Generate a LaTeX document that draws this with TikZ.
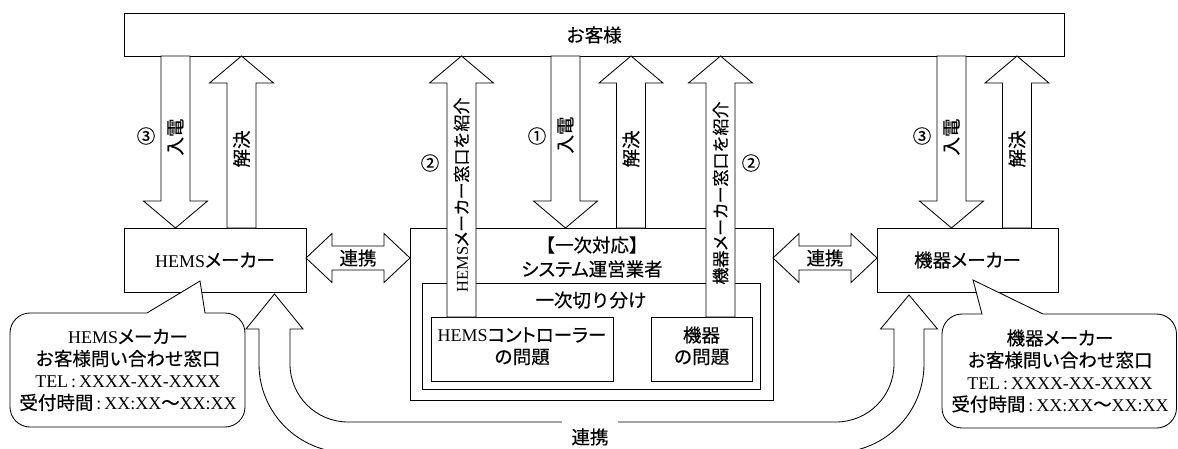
\documentclass[tikz,border=0pt]{standalone}
\usepackage{fontspec}
\setmainfont{Noto Sans CJK JP}[FakeBold=0.4]
\newfontfamily\latfont[Scale=0.97]{Liberation Serif}
\newfontfamily\kanafont[RawFeature=+palt,FakeBold=0.4]{Noto Sans CJK JP}
\newcommand\lt[1]{{\latfont #1}}
\newcommand\ka[1]{{\kanafont #1}}
\newcommand\downarrowblk[4]{%
  \draw[blk] (#1-14.5,#2) -- (#1+14.5,#2) -- (#1+14.5,#3) -- (#1+32,#3) -- (#1,#4) -- (#1-32,#3) -- (#1-14.5,#3) -- cycle;}
\newcommand\uparrowblk[4]{%
  \draw[blk] (#1-14.5,#2) -- (#1-14.5,#3) -- (#1-32,#3) -- (#1,#4) -- (#1+32,#3) -- (#1+14.5,#3) -- (#1+14.5,#2) -- cycle;}
\newcommand\dblarrowblk[3]{%
  \draw[blk] (#1,#3) -- (#1+26,#3-24.5) -- (#1+26,#3-12) -- (#2-26,#3-12) -- (#2-26,#3-24.5) -- (#2,#3) -- (#2-26,#3+24.5) -- (#2-26,#3+12) -- (#1+26,#3+12) -- (#1+26,#3+24.5) -- cycle;}
\begin{document}
\begin{tikzpicture}[x=1pt,y=-1pt,line width=0.85pt,
  box/.style={draw,fill=white,inner sep=0pt},
  blk/.style={draw,fill=white,line join=miter},
  every node/.style={inner sep=0pt,font=\fontsize{18.5}{22}\selectfont},
  txt/.style={align=center},
  vtxt/.style={rotate=90},
  vsmall/.style={rotate=90,font=\fontsize{17}{20}\selectfont}]
\useasboundingbox (0,0) rectangle (1178,448);
\clip (0,0) rectangle (1178,448);

% boxes
\node[box,minimum width=940,minimum height=43] (cust) at (594,34.5) {};
\node[box,minimum width=182,minimum height=64] (hems) at (215,260) {};
\node[box,minimum width=181,minimum height=64] (kiki) at (967.5,260) {};
\node[box,minimum width=363,minimum height=172] (sys) at (591.5,314) {};
\node[box,minimum width=338,minimum height=106] (first) at (591,336) {};
\node[box,minimum width=182,minimum height=64] (hc) at (522,349) {};
\node[box,minimum width=101,minimum height=64] (kp) at (701.5,349) {};

% arrows between customer and parties
\downarrowblk{175.5}{56}{201}{228}
\uparrowblk{241.5}{228}{83}{56}
\downarrowblk{565.5}{56}{201}{228}
\uparrowblk{631}{228}{83}{56}
\downarrowblk{951.5}{56}{201}{228}
\uparrowblk{1017}{228}{83}{56}
\uparrowblk{461.5}{317}{83}{56}
\uparrowblk{720.5}{317}{83}{56}

% cooperation arrows
\dblarrowblk{306}{410}{258}
\dblarrowblk{773}{877}{258}

% callouts
\draw[blk] (200,281) -- (205,313) -- (225,313) .. controls (236,313) and (245,322) .. (245,333) -- (245,407) .. controls (245,418) and (236,427) .. (225,427) -- (30,427) .. controls (19,427) and (10,418) .. (10,407) -- (10,333) .. controls (10,322) and (19,313) .. (30,313) -- (147,313) -- cycle;
\draw[blk] (973,280) -- (1043,314) -- (1156.5,314) .. controls (1167.5,314) and (1176.5,323) .. (1176.5,334) -- (1176.5,408) .. controls (1176.5,419) and (1167.5,428) .. (1156.5,428) -- (962,428) .. controls (951,428) and (942,419) .. (942,408) -- (942,334) .. controls (942,323) and (951,314) .. (962,314) -- (982,314) -- cycle;

% U-shaped cooperation arrow
\draw[blk] (274.5,294) -- (303,329) -- (290,329) -- (290,364) .. controls (290,396) and (316,422) .. (348,422) -- (836,422) .. controls (868,422) and (894,396) .. (894,364) -- (894,329) -- (880.5,329) -- (909,295) -- (937.5,329) -- (924,329) -- (924,364) .. controls (924,413) and (884.6,452.5) .. (835.5,452.5) -- (347.5,452.5) .. controls (298.6,452.5) and (259,413) .. (259,364) -- (259,329) -- (246,329) -- cycle;
\node[fill=white,minimum width=56,minimum height=34] (renkei3) at (590,437) {連携};

% texts
\node (tcust) at (594,35) {お客様};
\node (thems) at (215,260) {\lt{HEMS}\ka{メーカー}};
\node (tkiki) at (967.5,260) {機器\ka{メーカー}};
\node (tsys1) at (592,245) {【一次対応】};
\node (tsys2) at (592,269) {\ka{システム}運営業者};
\node (tfirst) at (591,300) {一次切り分け};
\node (thc1) at (522,335) {\lt{HEMS}\ka{コントローラー}};
\node (thc2) at (522,357) {の問題};
\node (tkp1) at (701.5,335) {機器};
\node (tkp2) at (701.5,357) {の問題};
\node (renkei1) at (358,258) {連携};
\node (renkei2) at (825,258) {連携};

\node[vtxt] (in1) at (175.5,137) {入電};
\node[vtxt] (sol1) at (241.5,149) {解決};
\node[vtxt] (in2) at (565.5,135) {入電};
\node[vtxt] (sol2) at (631,149) {解決};
\node[vtxt] (in3) at (951.5,137) {入電};
\node[vtxt] (sol3) at (1017,149) {解決};
\node[vsmall] (intro1) at (461.5,195) {\lt{HEMS}\ka{メーカー}窓口を紹介};
\node[vsmall] (intro2) at (720.5,193) {機器\ka{メーカー}窓口を紹介};

\node (n3a) at (146,136) {③};
\node (n1) at (537,136) {①};
\node (n2a) at (430,163) {②};
\node (n2b) at (751,163) {②};
\node (n3b) at (922,136) {③};

\node[txt] (call1) at (128,370) {\lt{HEMS}\ka{メーカー}\\お客様問い合わせ窓口\\\lt{TEL\,:\,XXXX-XX-XXXX}\\受付時間\lt{\,:\,XX:XX}〜\lt{XX:XX}};
\node[txt] (call2) at (1060,371) {機器\ka{メーカー}\\お客様問い合わせ窓口\\\lt{TEL\,:\,XXXX-XX-XXXX}\\受付時間\lt{\,:\,XX:XX}〜\lt{XX:XX}};
\end{tikzpicture}
\end{document}
